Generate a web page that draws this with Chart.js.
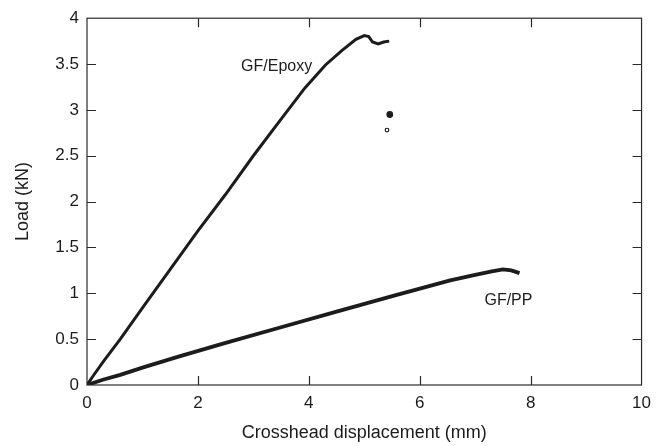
<!DOCTYPE html>
<html>
<head>
<meta charset="utf-8">
<script src="https://cdn.jsdelivr.net/npm/chart.js@4.4.1/dist/chart.umd.min.js"></script>
<style>
html, body { margin: 0; padding: 0; background: #fff; }
</style>
</head>
<body>
<canvas id="grafico" width="659" height="446"></canvas>
<script>
// GF/Epoxy - deslocamento (mm) e carga (kN)
const epoxyX = [0, 0.1, 0.3, 0.6, 1.0, 1.5, 2.0, 2.5, 3.0, 3.5, 3.93, 4.3, 4.6, 4.85, 5.0, 5.08, 5.15, 5.25, 5.35, 5.45];
const epoxyY = [0, 0.09, 0.26, 0.5, 0.84, 1.26, 1.68, 2.08, 2.5, 2.9, 3.24, 3.49, 3.65, 3.77, 3.81, 3.8, 3.74, 3.72, 3.74, 3.75];

// pontos soltos depois da ruptura
const soltosX = [5.46, 5.41];
const soltosY = [2.95, 2.78];

// GF/PP
const ppX = [0, 0.3, 0.6, 1.0, 1.65, 2.5, 3.5, 4.5, 5.57, 6.55, 7.0, 7.3, 7.5, 7.65, 7.8];
const ppY = [0, 0.06, 0.11, 0.19, 0.31, 0.46, 0.63, 0.8, 0.98, 1.14, 1.2, 1.24, 1.26, 1.25, 1.22];

const ticksX = [0, 2, 4, 6, 8, 10];
const ticksY = [0, 0.5, 1, 1.5, 2, 2.5, 3, 3.5, 4];

const rotulos = ['GF/Epoxy', 'GF/PP'];
const rotuloPos = [[3.42, 3.47], [7.6, 0.92]];

const fonte = '"Liberation Sans", Arial, sans-serif';
const corTinta = '#1c1c1c';

function pares(xs, ys) {
    return xs.map((x, i) => ({ x: x, y: ys[i] }));
}

// moldura, ticks para dentro e rótulos das curvas
const molduraPlugin = {
    id: 'moldura',
    afterDraw(chart) {
        const { ctx, chartArea: a, scales } = chart;
        ctx.save();
        ctx.strokeStyle = '#2a2a2a';
        ctx.lineWidth = 1.2;
        ctx.strokeRect(a.left, a.top, a.right - a.left, a.bottom - a.top);

        const tam = 9;
        ctx.beginPath();
        ticksX.slice(1, -1).forEach(v => {
            const px = Math.round(scales.x.getPixelForValue(v)) + 0.5;
            ctx.moveTo(px, a.bottom); ctx.lineTo(px, a.bottom - tam);
            ctx.moveTo(px, a.top); ctx.lineTo(px, a.top + tam);
        });
        ticksY.slice(1, -1).forEach(v => {
            const py = Math.round(scales.y.getPixelForValue(v)) + 0.5;
            ctx.moveTo(a.left, py); ctx.lineTo(a.left + tam, py);
            ctx.moveTo(a.right, py); ctx.lineTo(a.right - tam, py);
        });
        ctx.stroke();

        ctx.fillStyle = corTinta;
        ctx.font = '16px ' + fonte;
        ctx.textAlign = 'center';
        ctx.textBaseline = 'middle';
        rotulos.forEach((txt, i) => {
            ctx.fillText(txt, scales.x.getPixelForValue(rotuloPos[i][0]), scales.y.getPixelForValue(rotuloPos[i][1]));
        });
        ctx.restore();
    }
};

const config = {
    type: 'scatter',
    data: {
        datasets: [{
            label: 'GF/Epoxy',
            data: pares(epoxyX, epoxyY),
            showLine: true,
            borderColor: corTinta,
            borderWidth: 3,
            pointRadius: 0,
            tension: 0
        }, {
            label: 'GF/PP',
            data: pares(ppX, ppY),
            showLine: true,
            borderColor: corTinta,
            borderWidth: 3.8,
            pointRadius: 0,
            tension: 0
        }, {
            label: 'soltos',
            data: pares(soltosX, soltosY),
            showLine: false,
            pointRadius: [2.8, 1.8],
            pointBackgroundColor: [corTinta, '#ffffff'],
            pointBorderColor: corTinta,
            pointBorderWidth: 1.2
        }]
    },
    options: {
        responsive: false,
        animation: false,
        layout: { padding: { top: 18, right: 10, left: 0, bottom: 0 } },
        plugins: {
            legend: { display: false },
            tooltip: { enabled: false }
        },
        scales: {
            x: {
                type: 'linear',
                min: 0,
                max: 10,
                afterFit: s => { s.height = 61; },
                afterBuildTicks: s => { s.ticks = ticksX.map(v => ({ value: v })); },
                grid: { display: false, drawTicks: false },
                border: { display: false },
                ticks: { padding: 8, color: corTinta, font: { size: 17, family: fonte }, callback: v => String(v) },
                title: {
                    display: true,
                    text: 'Crosshead displacement (mm)',
                    color: corTinta,
                    font: { size: 18, family: fonte },
                    padding: { top: 0, bottom: 2 }
                }
            },
            y: {
                type: 'linear',
                min: 0,
                max: 4,
                afterFit: s => { s.width = 87; },
                afterBuildTicks: s => { s.ticks = ticksY.map(v => ({ value: v })); },
                grid: { display: false, drawTicks: false },
                border: { display: false },
                ticks: { padding: 8, color: corTinta, font: { size: 17, family: fonte }, callback: v => String(v) },
                title: {
                    display: true,
                    text: 'Load (kN)',
                    color: corTinta,
                    font: { size: 18, family: fonte },
                    padding: { top: 12, bottom: 0 }
                }
            }
        }
    },
    plugins: [molduraPlugin]
};

const ctxGrafico = document.getElementById('grafico').getContext('2d');
const chartGrafico = new Chart(ctxGrafico, config);
</script>
</body>
</html>
